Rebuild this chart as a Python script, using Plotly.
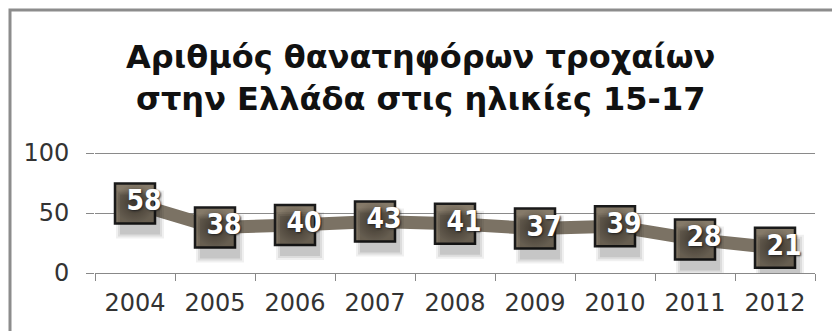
import plotly.graph_objects as go

years = ["2004", "2005", "2006", "2007", "2008", "2009", "2010", "2011", "2012"]
deaths = [58, 38, 40, 43, 41, 37, 39, 28, 21]
y_ticks = [0, 50, 100]
title_lines = ["Αριθμός θανατηφόρων τροχαίων", "στην Ελλάδα στις ηλικίες 15-17"]

W, H = 832, 331
ML, MR, MT, MB = 95, 17, 148, 58
plot_w = W - ML - MR
plot_h = H - MT - MB
px_per_unit = 1.2                   # 100 units = 120 px
y_top = plot_h / px_per_unit
ncat = len(years)
cat_px = plot_w / ncat
sh_dx, sh_dy = 5, 11   # marker shadow offset in px
tx_dx = 9              # label offset in px


def shifted_x(dx):
    return [-0.5 - dx / cat_px, ncat - 0.5 - dx / cat_px]


def shifted_y(dy):
    return [dy / px_per_unit, y_top + dy / px_per_unit]


fig = go.Figure()

# soft shadows (drawn on overlaid, slightly shifted axes)
for size, alpha in [(48, 0.06), (44, 0.08), (40, 0.10)]:
    fig.add_trace(go.Scatter(
        x=years, y=deaths, mode="markers", xaxis="x2", yaxis="y2",
        marker=dict(symbol="square", size=size, color=f"rgba(0,0,0,{alpha})", line=dict(width=0)),
        hoverinfo="skip", showlegend=False))

fig.add_trace(go.Scatter(
    x=years, y=deaths, mode="lines+markers",
    line=dict(color="#7b7264", width=13),
    marker=dict(symbol="square", size=40, color="#857a69",
                gradient=dict(type="radial", color="#51483d"),
                line=dict(color="#1a1a1a", width=2.5)),
    hoverinfo="skip", showlegend=False))

# value labels
fig.add_trace(go.Scatter(
    x=years, y=deaths, mode="text", xaxis="x3", yaxis="y",
    text=[f"<b>{v}</b>" for v in deaths], textposition="middle center",
    textfont=dict(family="DejaVu Sans Condensed", size=28, color="white",
                  shadow="1px 1px 2px #222"),
    hoverinfo="skip", showlegend=False))

fig.update_layout(
    width=W, height=H,
    margin=dict(l=ML, r=MR, t=MT, b=MB, pad=0),
    paper_bgcolor="white", plot_bgcolor="white",
    font=dict(family="DejaVu Sans", color="#333333"),
    xaxis=dict(type="category", range=[-0.5, ncat - 0.5], tickson="boundaries",
               ticks="outside", ticklen=7, tickcolor="#888888",
               showgrid=False, showline=True, linecolor="#888888", linewidth=1,
               tickfont=dict(size=24, color="#333333"), ticklabelstandoff=8),
    yaxis=dict(range=[0, y_top], tickvals=y_ticks, ticks="outside", ticklen=8,
               tickcolor="#888888", showgrid=True, gridcolor="#8a8a8a", gridwidth=1,
               zeroline=False, showline=False,
               tickfont=dict(size=24, color="#333333"), ticklabelstandoff=12),
    xaxis2=dict(type="category", overlaying="x", range=shifted_x(sh_dx), visible=False),
    yaxis2=dict(overlaying="y", range=shifted_y(sh_dy), visible=False),
    xaxis3=dict(type="category", overlaying="x", range=shifted_x(tx_dx), visible=False),
)

# title
fig.add_annotation(xref="paper", yref="paper", x=(420 - ML) / plot_w,
                   y=1 + (MT - 78) / plot_h, text="<b>" + "<br>".join(title_lines) + "</b>",
                   showarrow=False, xanchor="center", yanchor="middle",
                   font=dict(family="DejaVu Sans", size=32, color="#111111"))

# frame border
fig.add_shape(type="rect", xref="paper", yref="paper",
              x0=(10 - ML) / plot_w, x1=1.2, y0=-1, y1=1 + (MT - 10) / plot_h,
              line=dict(color="#8c8c8c", width=3), layer="below")

fig.write_html("out.html")
